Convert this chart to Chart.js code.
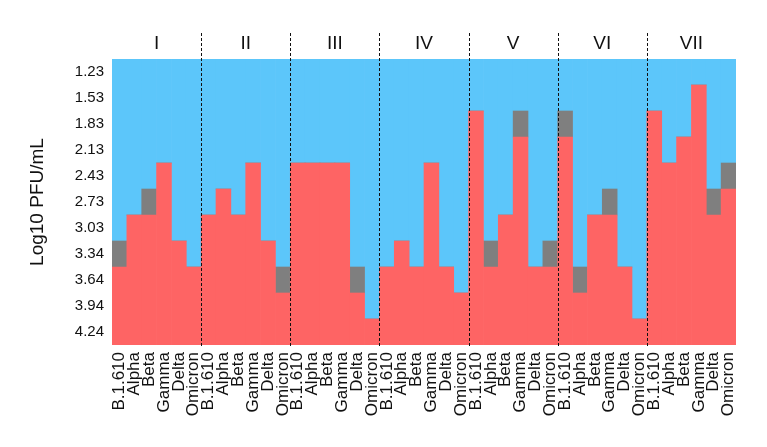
<!DOCTYPE html>
<html>
<head>
<meta charset="utf-8">
<script src="https://cdn.jsdelivr.net/npm/chart.js@4"></script>
<style>
  html, body { margin: 0; padding: 0; background: #fff; }
  #wrap { width: 767px; height: 447px; }
</style>
</head>
<body>
<div id="wrap"><canvas id="myChart" width="767" height="447"></canvas></div>
<script>
// groups across the top, variants under each column
const groups = ["I", "II", "III", "IV", "V", "VI", "VII"];
const variants = ["B.1.610", "Alpha", "Beta", "Gamma", "Delta", "Omicron"];
// row labels, top to bottom
const yLabels = ["1.23", "1.53", "1.83", "2.13", "2.43", "2.73", "3.03", "3.34", "3.64", "3.94", "4.24"];

// red cells counted from the bottom, per column
const redCells = [
    3, 5, 5, 7, 4, 3,   // I
    5, 6, 5, 7, 4, 2,   // II
    7, 7, 7, 7, 2, 1,   // III
    3, 4, 3, 7, 3, 2,   // IV
    9, 3, 5, 8, 3, 3,   // V
    8, 2, 5, 5, 3, 1,   // VI
    9, 7, 8, 10, 5, 6   // VII
];
// grey cells sitting on top of the red
const grayCells = [
    1, 0, 1, 0, 0, 0,
    0, 0, 0, 0, 0, 1,
    0, 0, 0, 0, 1, 0,
    0, 0, 0, 0, 0, 0,
    0, 1, 0, 1, 0, 1,
    1, 1, 0, 1, 0, 0,
    0, 0, 0, 0, 1, 1
];

const nRows = yLabels.length;
var xLabels = [];
groups.forEach(g => variants.forEach(v => xLabels.push(v)));
var blueCells = redCells.map((r, i) => nRows - r - grayCells[i]);

const FONT = "'Liberation Sans', Arial, sans-serif";

const groupLines = {
    id: "groupLines",
    afterDatasetsDraw(chart) {
        const ctx = chart.ctx;
        const x = chart.scales.x;
        const area = chart.chartArea;
        const per = variants.length;
        ctx.save();
        ctx.strokeStyle = "#111";
        ctx.lineWidth = 1;
        ctx.setLineDash([3, 2]);
        for (var k = 1; k < groups.length; k++) {
            var px = Math.round((x.getPixelForValue(k * per - 1) + x.getPixelForValue(k * per)) / 2) + 0.5;
            ctx.beginPath();
            ctx.moveTo(px, 33);
            ctx.lineTo(px, area.bottom + 3);
            ctx.stroke();
        }
        ctx.setLineDash([]);
        ctx.fillStyle = "#111";
        ctx.font = "19px " + FONT;
        ctx.textAlign = "center";
        ctx.textBaseline = "middle";
        groups.forEach((g, k) => {
            var cx = (x.getPixelForValue(k * per) + x.getPixelForValue(k * per + per - 1)) / 2;
            ctx.fillText(g, cx, 44);
        });
        ctx.restore();
    }
};

new Chart("myChart", {
    type: "bar",
    data: {
        labels: xLabels,
        datasets: [
            { data: redCells, backgroundColor: "#fe6464", borderWidth: 0 },
            { data: grayCells, backgroundColor: "#7f7f7f", borderWidth: 0 },
            { data: blueCells, backgroundColor: "#5cc6fa", borderWidth: 0 }
        ]
    },
    options: {
        responsive: false,
        animation: false,
        devicePixelRatio: 1,
        layout: { padding: { left: 20, top: 59, right: 31, bottom: 0 } },
        plugins: { legend: { display: false }, tooltip: { enabled: false } },
        datasets: { bar: { categoryPercentage: 1, barPercentage: 1 } },
        scales: {
            x: {
                stacked: true,
                grid: { display: false, drawTicks: false },
                border: { display: false },
                ticks: {
                    autoSkip: false,
                    minRotation: 90,
                    maxRotation: 90,
                    padding: 7,
                    color: "#111",
                    font: { size: 17, family: FONT }
                },
                afterFit: s => { s.height = 102; }
            },
            y: {
                stacked: true,
                min: 0,
                max: nRows,
                grid: { display: false, drawTicks: false },
                border: { display: false },
                afterBuildTicks: s => {
                    s.ticks = yLabels.map((_, i) => ({ value: nRows - 0.5 - i }));
                },
                ticks: {
                    padding: 8,
                    color: "#111",
                    font: { size: 15, family: FONT },
                    callback: v => yLabels[Math.round(nRows - 0.5 - v)]
                },
                title: {
                    display: true,
                    text: "Log10 PFU/mL",
                    color: "#111",
                    padding: { top: 6, bottom: 0 },
                    font: { size: 19, family: FONT }
                },
                afterFit: s => { s.width = 92; }
            }
        }
    },
    plugins: [groupLines]
});
</script>
</body>
</html>
